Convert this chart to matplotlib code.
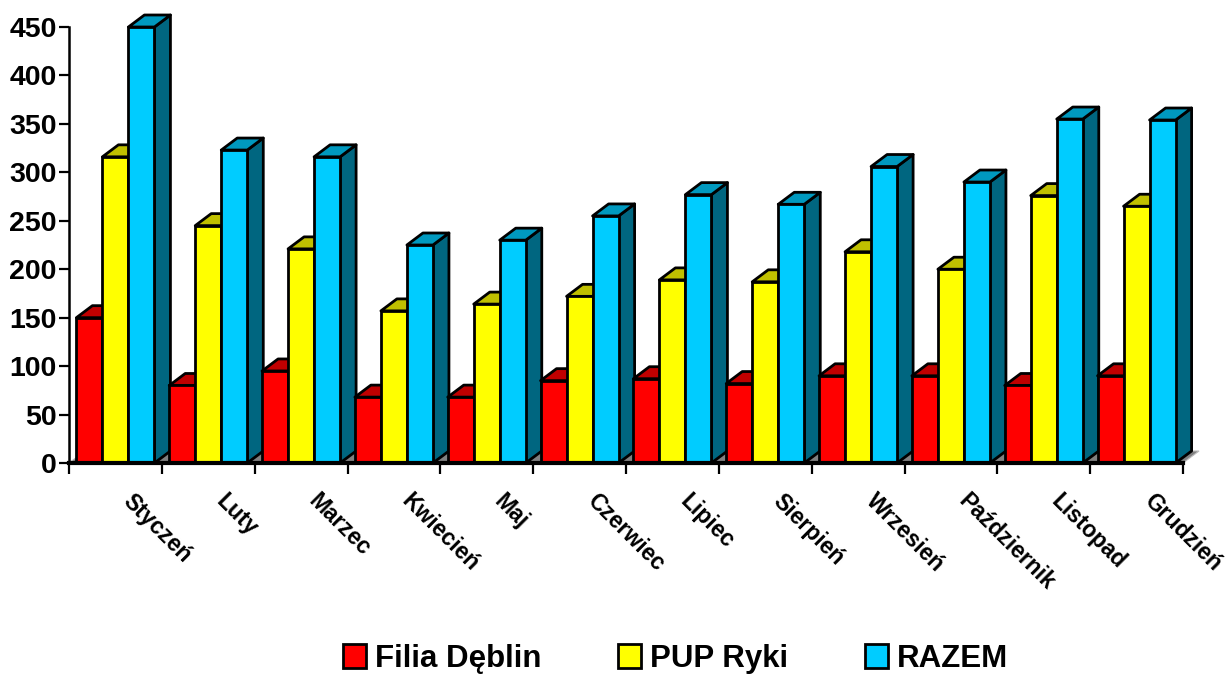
import matplotlib
matplotlib.use("Agg")
import matplotlib.pyplot as plt
from matplotlib.patches import Polygon, Patch

plt.rcParams['font.family'] = ['Liberation Sans', 'DejaVu Sans']
plt.rcParams['font.weight'] = 'bold'

months = ['Styczeń', 'Luty', 'Marzec', 'Kwiecień', 'Maj', 'Czerwiec', 'Lipiec',
          'Sierpień', 'Wrzesień', 'Październik', 'Listopad', 'Grudzień']
filia = [150, 80, 95, 68, 68, 85, 87, 82, 90, 90, 80, 90]
pup = [316, 245, 221, 157, 164, 172, 189, 187, 218, 200, 276, 265]
razem = [450, 323, 316, 225, 230, 255, 277, 267, 306, 290, 355, 354]
series = [('Filia Dęblin', filia, '#FF0000', '#C00000', '#990000'),
          ('PUP Ryki', pup, '#FFFF00', '#C0C000', '#999900'),
          ('RAZEM', razem, '#00CCFF', '#0099BF', '#006680')]

W, H = 1229, 675
fig = plt.figure(figsize=(W / 100, H / 100), dpi=100, facecolor='white')
L, R, B, T = 69, 1183, 463, 2
ax = fig.add_axes([L / W, 1 - B / H, (R - L) / W, (B - T) / H])
ax.set_xlim(0, 12)
ppu = 436 / 450
ax.set_ylim(0, (B - T) / ppu)

bw = 26 / 92.8
dx = 16 / 92.8
dy = 12 / ppu
lw = 2.0

ax.add_patch(Polygon([(0, 0), (12, 0), (12 + dx, dy), (dx, dy)], closed=True,
                     facecolor='#808080', edgecolor='#BBBBBB', lw=0.8, zorder=1, clip_on=False))

z = 2
for i in range(12):
    for k, (name, vals, front, top, side) in enumerate(series):
        x0 = i + 0.5 + (k - 1.5) * bw
        x1 = x0 + bw
        v = vals[i]
        ax.add_patch(Polygon([(x1, 0), (x1 + dx, dy), (x1 + dx, v + dy), (x1, v)], closed=True,
                             facecolor=side, edgecolor='black', lw=lw, zorder=z, clip_on=False, joinstyle='round'))
        ax.add_patch(Polygon([(x0, v), (x1, v), (x1 + dx, v + dy), (x0 + dx, v + dy)], closed=True,
                             facecolor=top, edgecolor='black', lw=lw, zorder=z, clip_on=False, joinstyle='round'))
        ax.bar(x0, v, width=bw, align='edge', color=front, edgecolor='black', linewidth=lw, zorder=z + 0.5, clip_on=False)
        z += 1

for s in ('top', 'right'):
    ax.spines[s].set_visible(False)
ax.spines['left'].set_linewidth(1.8)
ax.spines['left'].set_bounds(0, 450)
ax.spines['bottom'].set_linewidth(3.0)
ax.spines['bottom'].set_zorder(100)
ax.spines['left'].set_zorder(100)

ax.set_yticks(range(0, 451, 50))
ax.tick_params(axis='y', length=7, width=1.6, labelsize=20.5, pad=2)
ax.set_xticks(range(13))
ax.set_xticks([i + 0.62 for i in range(12)], minor=True)
ax.set_xticklabels([])
ax.tick_params(axis='x', which='major', length=8, width=1.6)
ax.tick_params(axis='x', which='minor', length=0, pad=25)
ax.set_xticklabels(months, minor=True, rotation=-45, ha='left', va='center',
                   rotation_mode='anchor', fontsize=16.5, fontweight='bold')

handles = [Patch(facecolor=c[2], edgecolor='black', linewidth=2.0) for c in series]
ax.legend(handles, [c[0] for c in series], ncol=3, frameon=False, loc='lower left',
          bbox_to_anchor=(343 / W, 1 / H), bbox_transform=fig.transFigure, borderaxespad=0, borderpad=0,
          handlelength=0.74, handleheight=0.8, handletextpad=0.29, columnspacing=2.45,
          prop={'weight': 'bold', 'size': 22.5})

fig.savefig('out.png', dpi=100)
